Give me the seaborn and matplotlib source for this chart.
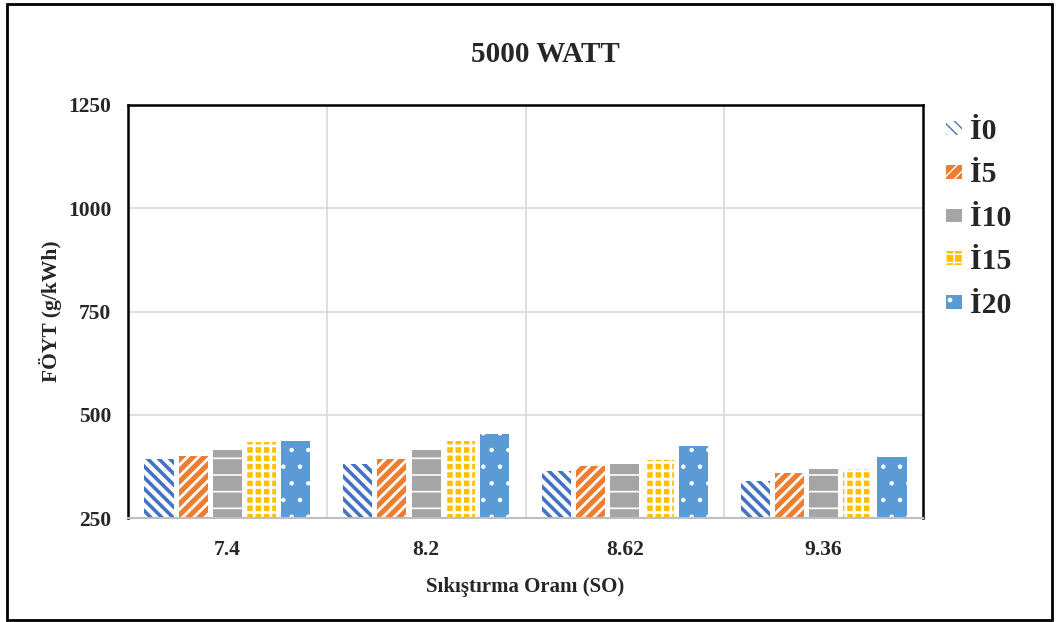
import matplotlib
matplotlib.use("Agg")
import matplotlib.pyplot as plt
from matplotlib.patches import Rectangle, Patch
import seaborn as sns
import pandas as pd

# Compression ratios and fuel consumption per blend
ratios = ["7.4", "8.2", "8.62", "9.36"]
blends = ["İ0", "İ5", "İ10", "İ15", "İ20"]
i0 = [392, 380, 365, 339]
i5 = [401, 392, 377, 360]
i10 = [415, 415, 381, 369]
i15 = [433, 436, 391, 369]
i20 = [436, 453, 425, 398]

series = [i0, i5, i10, i15, i20]
df = pd.DataFrame({
    "SO": [r for _ in blends for r in ratios],
    "blend": [b for b in blends for _ in ratios],
    "value": [v for s in series for v in s],
})

# face colour, hatch colour, hatch pattern, hatch line width for each blend
styles = {
    "İ0": ("white", "#4472C4", "\\\\\\", 2.6),
    "İ5": ("#ED7D31", "white", "///", 2.0),
    "İ10": ("#A5A5A5", "white", "-", 1.2),
    "İ15": ("#FFC000", "white", "++", 2.0),
    "İ20": ("#5B9BD5", "white", ".", 0.8),
}


def style_patch(p, face, hcol, hatch, hlw):
    p.set_facecolor(face)
    p.set_edgecolor(hcol)
    p.set_hatch(hatch)
    p.set_linewidth(0)
    if hasattr(p, "set_hatch_linewidth"):
        p.set_hatch_linewidth(hlw)
    else:
        p._hatch_linewidth = hlw


sns.set_theme(style="white")
plt.rcParams["font.family"] = ["Liberation Serif", "DejaVu Serif"]
plt.rcParams["font.weight"] = "bold"

fig = plt.figure(figsize=(10.59, 6.22), dpi=100)
ax = fig.add_axes([128 / 1059, 1 - 518 / 622, 795 / 1059, 413 / 622])

sns.barplot(data=df, x="SO", y="value", hue="blend", hue_order=blends,
            order=ratios, width=0.86, gap=0.15, ax=ax, legend=False,
            palette=[styles[b][0] for b in blends], saturation=1)

for cont, b in zip(ax.containers, blends):
    for p in cont.patches:
        style_patch(p, *styles[b])

ax.set_ylim(250, 1250)
ax.set_yticks([250, 500, 750, 1000, 1250])
ax.set_xlim(-0.5, 3.5)
ax.set_xticks([0.5, 1.5, 2.5], minor=True)
ax.grid(True, axis="y", which="major", color="#D9D9D9", linewidth=1.2)
ax.grid(True, axis="x", which="minor", color="#D9D9D9", linewidth=1.2)
ax.set_axisbelow(True)
ax.tick_params(axis="y", which="both", length=0, labelsize=15.5, pad=12)
ax.tick_params(axis="x", which="both", length=0, labelsize=15.5, pad=16)
for lab in ax.get_xticklabels() + ax.get_yticklabels():
    lab.set_fontweight("bold")

for side in ["left", "top", "right"]:
    ax.spines[side].set_visible(True)
    ax.spines[side].set_color("black")
    ax.spines[side].set_linewidth(1.8)
ax.spines["bottom"].set_color("#BFBFBF")
ax.spines["bottom"].set_linewidth(1.5)

ax.set_xlabel("Sıkıştırma Oranı (SO)", fontsize=15, fontweight="bold", labelpad=12)
ax.set_ylabel("FÖYT (g/kWh)", fontsize=15.5, fontweight="bold", labelpad=4)
fig.text(545 / 1059, 1 - 55 / 622, "5000 WATT", ha="center", va="center",
         fontsize=21, fontweight="bold")

handles = []
for b in blends:
    face, hcol, hatch, hlw = styles[b]
    h = Patch()
    style_patch(h, face, hcol, hatch, hlw)
    handles.append(h)
fig.legend(handles, blends, loc="upper left", bbox_to_anchor=(919 / 1059, 1 - 91 / 622),
           frameon=False, prop={"size": 21.5, "weight": "bold"},
           handlelength=0.55, handleheight=0.35, handletextpad=0.25, labelspacing=0.55)

fig.add_artist(Rectangle((7 / 1059, 2 / 622), 1045 / 1059, 616 / 622,
                         transform=fig.transFigure, fill=False,
                         edgecolor="black", linewidth=2))

fig.savefig("out.png", dpi=100)
